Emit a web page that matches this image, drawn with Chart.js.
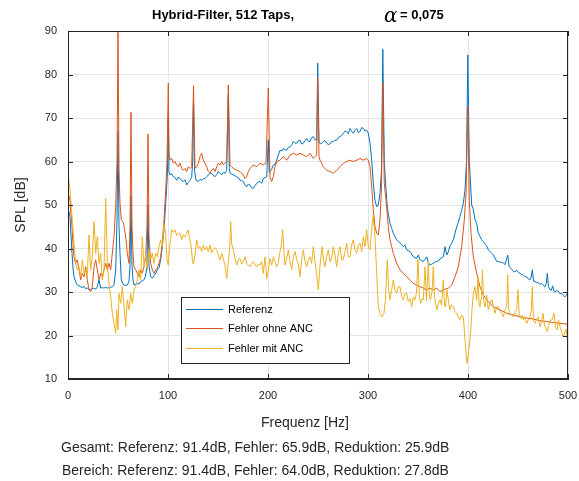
<!DOCTYPE html>
<html>
<head>
<meta charset="utf-8">
<script src="https://cdn.jsdelivr.net/npm/chart.js@4.4.0/dist/chart.umd.min.js"></script>
<style>
  html, body { margin: 0; padding: 0; background: #ffffff; }
  #wrap { width: 579px; height: 481px; }
</style>
</head>
<body>
<div id="wrap"><canvas id="grafik" width="579" height="481"></canvas></div>
<script>
const referenz = [
  [0,49.0],[1,48.5],[2,47.3],[3,43.0],[4,38.9],[5,35.5],[6,33.5],[8,32.2],[9.3,31.6],[11,31.4],
  [12.7,31.2],[14,31.0],[16,31.3],[17.5,30.8],[19.3,30.9],[21,30.6],[22.7,30.5],[24.5,30.8],[26,30.9],[27.5,30.6],
  [29.3,31.2],[31,32.8],[32.7,30.9],[34.5,31.0],[36,30.9],[37.5,31.1],[39.3,30.9],[41,31.0],[42.7,31.1],[44.5,31.2],
  [46,31.6],[47.7,35.1],[49,46.6],[50,67.0],[51,45.0],[52,38.9],[53.3,32.8],[55,31.8],[56,31.6],[58,31.5],
  [59.3,31.6],[61,32.4],[62,36.0],[63,52.0],[64,36.0],[65,32.8],[66,31.6],[68,31.8],[69.3,32.0],[71,31.8],
  [72.7,32.4],[74.5,32.6],[76,32.8],[77.5,33.6],[79,36.0],[80,50.0],[81,36.0],[82.7,33.5],[84.5,33.2],[86,33.8],
  [88,34.4],[89.3,35.1],[91,35.6],[92.7,37.4],[94.3,40.4],[96,44.3],[97.7,50.4],[99.3,56.5],[100.3,70.0],[101,57.5],
  [102,56.9],[103.7,57.2],[105.3,56.5],[107,56.3],[108.7,55.7],[110.3,56.4],[112,56.1],[113.7,55.6],[115.3,55.4],[117,55.8],
  [118.7,54.6],[120.3,55.2],[122,55.7],[123.7,56.5],[124.7,60.0],[125.5,73.4],[126.5,58.0],[128,55.7],[130.3,55.4],[132,55.9],
  [133.7,55.7],[135.3,56.0],[137,56.1],[138.7,56.5],[140.3,56.9],[142,57.3],[143.7,57.3],[145.3,56.8],[147,56.5],[148.7,57.0],
  [150.3,57.7],[152,57.3],[153.7,56.9],[155.3,57.5],[157,57.3],[158.7,58.0],[160.3,75.5],[161.3,58.4],[162,57.3],[163.7,57.1],
  [165.3,56.9],[167,56.7],[168.7,56.5],[170.3,56.3],[172,55.7],[173.7,55.6],[175.3,55.4],[177,54.6],[178.7,54.2],[180.3,54.8],
  [182,54.6],[183.7,54.0],[185.3,53.8],[187,54.4],[188.7,55.0],[190.3,55.3],[192,55.4],[193.7,55.0],[195.3,56.1],[197,56.3],
  [198.7,56.5],[200.3,65.0],[201.3,57.5],[202,57.7],[203.7,58.2],[205.3,59.2],[207,59.4],[208.7,60.3],[210.3,61.5],[212,62.6],
  [213.7,62.4],[215.3,63.0],[217,62.7],[218.7,62.6],[220.3,63.2],[222,63.4],[223.7,63.8],[225.3,64.6],[227,64.2],[228.7,64.2],
  [230.3,64.8],[232,64.9],[233.7,64.0],[235.3,64.2],[237,64.8],[238.7,65.3],[240.3,64.6],[242,64.6],[243.7,65.5],[245.3,65.7],
  [247,65.0],[248.7,64.9],[249.7,82.6],[251,64.5],[252.7,64.0],[254,64.3],[255.3,64.6],[257,64.8],[258.7,64.2],[260.3,63.9],
  [262,64.0],[263.7,64.6],[265.3,64.6],[267,64.9],[268.7,64.9],[270.3,65.5],[272,65.7],[273.7,66.0],[275.3,66.5],[277,67.0],
  [278.7,66.9],[280.3,66.4],[282,67.6],[283.7,66.9],[285.3,66.5],[287,67.2],[288.7,67.6],[290.3,66.6],[292,66.9],[293.7,67.8],
  [295.3,67.6],[297,67.0],[298.7,67.2],[300.3,66.5],[302,64.2],[303.7,60.3],[305.3,55.0],[307,51.1],[308.7,49.6],[310.3,50.0],
  [312,52.7],[313.5,58.0],[314.8,85.8],[316.3,60.0],[318,53.5],[319.3,49.6],[320.7,47.5],[322,45.8],[323.7,44.6],[325.3,43.5],
  [327,42.7],[328.7,42.0],[330.3,41.6],[332,41.2],[333.7,40.9],[335.3,40.4],[337,40.8],[338.7,39.7],[340.3,39.5],[342,39.3],
  [343.7,38.7],[345.3,38.1],[347,37.9],[348.7,37.7],[350.3,38.5],[352,37.4],[353.7,37.2],[355.3,37.0],[357,37.5],[358.7,38.1],
  [360.3,36.8],[362,36.2],[363.7,36.4],[365.3,36.6],[367,36.9],[368.7,37.0],[370.3,37.1],[372,37.6],[374,37.9],[375.3,38.1],
  [377,40.4],[378.7,38.5],[380.3,39.2],[382,40.6],[383.7,41.2],[385.3,42.0],[387,43.5],[388.7,45.0],[390.3,46.0],[392,47.4],
  [393.7,48.8],[395.3,50.4],[397,53.4],[398.5,60.0],[399.8,84.5],[401.3,60.0],[403.7,50.0],[405.3,49.0],[407,46.6],[408.7,45.8],
  [410.3,43.5],[412,42.8],[413.7,42.0],[415.3,41.6],[417,41.0],[418.7,40.6],[420.3,39.7],[422,39.3],[423.7,38.9],[425.3,38.5],
  [427,37.8],[428.7,37.0],[430.3,37.0],[432,36.9],[433.7,36.8],[435.3,36.7],[437,36.3],[438.5,37.5],[439.7,38.5],[441,36.0],
  [442,35.7],[443.7,35.2],[445.3,34.8],[447,34.6],[448.7,35.0],[450.3,34.5],[452,34.3],[453.7,34.0],[455.3,33.9],[457,33.5],
  [458.7,33.5],[460.3,33.0],[462,32.8],[463.3,33.5],[464.3,35.1],[465.5,32.5],[467,32.4],[468.7,32.2],[470.3,32.1],[472,31.8],
  [473.7,32.0],[475.3,31.5],[477,31.2],[478.3,32.0],[479.3,34.3],[480.5,31.2],[482,30.5],[483.3,30.4],[484.7,31.4],[486,30.1],
  [487,30.0],[488.7,30.3],[490.3,30.2],[492,29.6],[493.7,29.7],[495.3,29.2],[497,28.9],[498.3,29.2],[499.3,29.7],[500,28.9]
];

const fehlerOhneAnc = [
  [0,52.5],[1,52.0],[2,51.0],[3,48.0],[4,45.0],[5,41.0],[6,38.0],[7.5,36.6],[9.3,37.4],[11,35.1],
  [12.7,32.8],[14.3,34.3],[16,33.5],[17.7,35.8],[19.3,32.8],[21,30.5],[22.7,30.1],[24.3,31.2],[26,35.8],[27.7,37.4],
  [29.3,35.1],[31,32.8],[32.7,34.3],[34.3,33.5],[36,35.1],[37.7,36.6],[39.3,35.1],[41,36.6],[42.7,35.1],[44.3,38.9],
  [46,42.7],[47.7,49.8],[49,60.0],[50,89.7],[51,58.0],[52,50.4],[53.3,46.6],[55.3,46.0],[57.7,42.7],[59.3,38.9],
  [61,36.6],[62,45.0],[63,71.3],[64,45.0],[65,38.9],[66,35.8],[67.7,35.1],[69.3,34.3],[71,33.5],[72.7,35.1],
  [74.3,34.3],[76,35.8],[77.7,38.1],[79,45.0],[80,66.3],[81,42.7],[82.7,36.6],[84.3,35.1],[86,34.3],[87.7,35.1],
  [89.3,35.5],[91,36.6],[92.7,38.1],[94.3,41.2],[96,46.6],[97.7,53.4],[99,60.0],[100.3,78.0],[101,62.0],[102,60.3],
  [103.7,60.7],[105.3,59.6],[107,60.0],[108.7,59.2],[110.3,58.8],[112,59.6],[113.7,58.4],[115.3,58.0],[117,58.4],[118.7,57.7],
  [120.3,58.8],[122,58.4],[123.7,58.8],[125.5,77.4],[127,58.4],[128.7,58.8],[130.3,59.6],[132,61.1],[133.7,61.9],[135.3,60.3],
  [137,59.6],[138.7,58.8],[140.3,57.7],[142,57.3],[143.7,58.0],[145.3,58.4],[147,57.7],[148.7,58.8],[150.3,59.6],[152,59.2],
  [153.7,60.0],[155.3,59.2],[157,59.6],[158.7,60.0],[160.3,77.6],[162,59.2],[163.7,58.8],[165.3,58.4],[168.7,58.0],[172,57.7],
  [175.3,56.9],[177,56.1],[178.7,56.5],[180.3,57.7],[182,58.4],[185.3,59.2],[188.7,58.8],[192,59.6],[195.3,59.2],[198,59.6],
  [200.3,76.9],[202,56.5],[203.7,55.4],[205.3,56.5],[207,58.8],[208.7,60.0],[212,60.3],[215.3,61.1],[218.7,60.3],[222,61.5],
  [225.3,61.9],[228.7,61.5],[232,61.9],[235.3,61.5],[238.7,61.1],[242,61.9],[245.3,60.7],[248.7,61.5],[249.7,79.3],[251,61.0],
  [252,60.3],[253.7,59.6],[255.3,58.8],[258.7,58.0],[262,57.7],[265.3,57.3],[268.7,58.0],[272,58.8],[275.3,59.6],[278.7,60.0],
  [282,60.3],[285.3,60.0],[288.7,60.3],[292,60.7],[295.3,60.3],[298.7,60.7],[300.3,60.3],[302,58.8],[303.7,54.2],[305.3,48.9],
  [307,45.0],[308.7,43.5],[310.3,43.1],[312,46.6],[313.5,54.0],[314.8,78.1],[316.3,55.0],[318,51.1],[320.3,45.0],[322,42.0],
  [325.3,38.9],[328.7,36.6],[332,35.1],[335.3,34.3],[338.7,33.5],[342,32.8],[345.3,32.0],[348.7,31.6],[352,31.2],[355.3,30.9],
  [358.7,30.5],[362,30.9],[365.3,30.5],[368.7,30.9],[372,30.1],[375.3,30.5],[380.3,30.9],[383.7,31.6],[387,33.5],[390.3,35.8],
  [393.7,40.4],[396.3,46.6],[398,52.5],[399.8,72.6],[401.3,51.0],[403,43.5],[405.3,38.1],[408.7,34.3],[412,31.2],[415.3,29.3],
  [420.3,27.8],[425.3,26.6],[432,25.9],[438.7,25.1],[445.3,24.7],[452,24.3],[458.7,24.0],[465.3,23.8],[472,23.4],[478.7,23.2],
  [485.3,23.0],[492,22.8],[500,22.6]
];

const fehlerMitAnc = [
  [0,57.3],[2,53.4],[4.3,46.6],[6,41.2],[7.7,36.6],[9.3,35.1],[11,35.8],[12.7,33.5],[14.3,37.4],[16,34.3],
  [17.7,35.1],[19.3,33.5],[21,43.1],[22.7,35.1],[24.3,38.1],[26,46.2],[27.7,38.9],[29.3,42.7],[31,36.6],[32.7,38.9],
  [34.3,32.8],[36,35.1],[37.7,51.5],[39.3,36.6],[41,32.0],[42.7,28.9],[44.3,25.1],[46,22.8],[47.7,20.5],[48.7,25.9],
  [50,21.3],[51,29.7],[52.7,27.4],[54.3,31.2],[56,26.6],[57.7,22.0],[59.3,28.2],[61,25.9],[62.7,29.7],[64.3,27.4],
  [66,30.5],[67.7,31.2],[69.3,32.8],[71,35.1],[72.7,32.8],[74.3,42.7],[76,35.8],[77.7,38.9],[79.3,35.1],[81,39.7],
  [82.7,37.4],[84.3,38.9],[86,36.6],[87.7,38.9],[89.3,38.1],[91,40.4],[92.7,42.0],[94.3,40.4],[96,45.8],[97.7,43.5],
  [99,37.4],[100.3,36.2],[101.5,40.0],[103.7,44.3],[105.3,43.7],[107,44.3],[108.7,43.0],[110.3,43.5],[112,43.5],[113.7,42.0],
  [115.3,43.2],[117,42.7],[118.7,43.5],[120,44.3],[121.5,42.5],[123,40.8],[124.5,37.0],[125.3,36.4],[127,38.5],[128.7,42.0],
  [130.3,40.0],[132,40.4],[133.7,39.3],[135.3,40.8],[137,39.7],[138.7,40.4],[140.3,39.3],[142,40.8],[143.7,39.0],[145.3,39.7],
  [147,40.2],[148.7,39.7],[150.3,38.5],[152,37.4],[153.7,38.9],[155.3,37.7],[157,36.0],[158.7,33.1],[160.3,37.0],[161.7,40.0],
  [162.7,46.2],[163.7,41.0],[165.3,39.7],[167,37.7],[168.7,36.2],[170.3,37.4],[172,37.7],[173.7,36.4],[175.3,37.0],[177,38.1],
  [178.7,36.6],[180.3,36.2],[182,35.8],[183.7,36.6],[185.3,37.0],[187,36.2],[188.7,35.8],[190.3,36.4],[192,36.2],[193.7,37.0],
  [195.3,34.3],[197,38.1],[198.7,33.1],[200.3,35.0],[202,37.7],[203.7,36.2],[205.3,38.1],[207,37.0],[208.7,35.8],[210.3,36.6],
  [212,39.3],[213.5,41.0],[214.7,44.3],[216,38.9],[217,36.2],[218.7,37.7],[220.3,39.7],[222,37.0],[223.7,35.1],[225.3,38.1],
  [227,39.3],[228.7,37.4],[230.3,36.6],[232,33.5],[233.7,37.4],[235.3,39.7],[237,37.0],[238.7,35.8],[240.3,37.4],[242,38.1],
  [243.7,36.6],[245.3,40.4],[247,37.0],[248.5,34.3],[250.3,30.5],[252,36.0],[254,40.4],[255.5,37.4],[257,35.8],[258.7,38.1],
  [260.3,39.7],[262,37.0],[264,38.1],[265.3,40.4],[267,38.5],[268.7,35.8],[270.3,38.9],[272,40.4],[273.7,37.4],[275.3,37.4],
  [277,39.3],[278.7,41.2],[280.3,38.1],[282,38.1],[283.7,40.8],[285.3,42.0],[287,39.7],[288.7,38.9],[290.3,40.8],[292,41.2],
  [293.7,39.3],[295.3,42.7],[297,40.4],[298.7,44.3],[300.3,40.4],[302,39.7],[303.5,44.0],[304.5,46.6],[305.3,47.7],[306,45.0],
  [307,42.7],[308.7,34.3],[310.3,26.6],[312,25.1],[314,24.3],[316,25.1],[317.3,28.0],[319.3,37.4],[320.5,31.0],[322,28.2],
  [323.7,30.5],[325.3,32.8],[327,30.5],[328.7,29.7],[330.3,31.2],[332,31.2],[333.7,28.9],[335.3,28.2],[337,29.7],[338.7,29.7],
  [340.3,27.8],[342,28.5],[343.7,26.6],[345.3,28.9],[347,28.2],[348.5,30.0],[350,37.5],[351.3,29.0],[352.7,27.4],[354,28.5],
  [355.3,28.2],[357,35.8],[358.5,28.0],[360.3,37.0],[361.5,28.9],[362.5,28.2],[364,30.0],[365.3,35.8],[366.5,29.0],[367.5,27.4],
  [369,25.9],[370.5,27.4],[372,28.2],[373.5,27.0],[375.3,32.8],[376.5,27.0],[377.5,26.6],[379,30.5],[380.5,27.8],[382,25.9],
  [383.5,27.0],[385.3,26.6],[387,25.5],[388.7,25.1],[390.3,24.3],[392,23.6],[393.7,24.7],[395.3,24.3],[397,19.0],[398,16.0],
  [399,13.6],[400.5,16.0],[402,19.0],[403,22.0],[404,25.9],[405.3,29.7],[407,31.2],[408.7,28.2],[410,33.5],[411,27.4],
  [412,26.6],[413.5,29.0],[414.5,35.1],[415.5,28.2],[417,26.6],[418.7,29.3],[420.3,25.9],[422,27.4],[424,28.2],[425.5,26.6],
  [427,25.1],[428.7,26.6],[430.3,26.6],[432,25.5],[433.7,25.1],[435.3,24.3],[437,25.9],[438.7,26.6],[439.7,33.9],[440.7,25.9],
  [442,25.1],[443.7,24.7],[445.3,24.3],[447,25.5],[448.7,26.0],[450,30.5],[451.3,24.3],[452.7,23.9],[454,24.7],[455.3,23.6],
  [457,24.3],[458.7,22.8],[460.3,23.6],[462,24.3],[463.3,26.0],[464.3,31.2],[465.5,23.2],[467,22.8],[468.7,23.9],[470.3,24.3],
  [472,22.0],[473.7,23.2],[475,25.1],[476.5,22.4],[478,21.5],[479.3,20.9],[480.5,22.0],[482,23.5],[484,23.6],[486,25.1],
  [487.5,22.0],[489,21.3],[490.5,23.5],[492,22.0],[493.5,21.0],[495,19.7],[496.5,20.5],[498,21.5],[499.3,19.3],[500,19.5]
];

const serienNamen = ['Referenz', 'Fehler ohne ANC', 'Fehler mit ANC'];
const serienFarben = ['#0072BD', '#D95319', '#EDB120'];
const xTicks = [0, 100, 200, 300, 400, 500];
const yTicks = [10, 20, 30, 40, 50, 60, 70, 80, 90];

const titelText = 'Hybrid-Filter, 512 Taps,';
const alphaZeichen = '\u03B1';
const alphaWert = '= 0,075';
const xTitel = 'Frequenz [Hz]';
const yTitel = 'SPL [dB]';
const fusszeilen = [
  'Gesamt: Referenz: 91.4dB, Fehler: 65.9dB, Reduktion: 25.9dB',
  'Bereich: Referenz: 91.4dB, Fehler: 64.0dB, Reduktion: 27.8dB'
];

const SCHRIFT = '"Liberation Sans", Arial, sans-serif';
const ACHSENFARBE = '#262626';

function alsPunkte(paare) {
  return paare.map(p => ({ x: p[0], y: p[1] }));
}

// Rahmen, innenliegende Ticks, Titel, Legende und Textzeilen (MATLAB-Look)
const matlabDeko = {
  id: 'matlabDeko',
  afterDraw(chart) {
    const ctx = chart.ctx;
    const a = chart.chartArea;
    const sx = chart.scales.x, sy = chart.scales.y;
    ctx.save();

    // Achsenrahmen
    ctx.strokeStyle = ACHSENFARBE;
    ctx.lineWidth = 1;
    ctx.strokeRect(Math.round(a.left) + 0.5, Math.round(a.top) + 0.5,
      Math.round(a.right - a.left) - 1, Math.round(a.bottom - a.top) - 1);

    // Ticks nach innen
    ctx.beginPath();
    xTicks.forEach(v => {
      const px = Math.round(sx.getPixelForValue(v)) + 0.5;
      ctx.moveTo(px, a.bottom); ctx.lineTo(px, a.bottom - 5);
      ctx.moveTo(px, a.top); ctx.lineTo(px, a.top + 5);
    });
    yTicks.forEach(v => {
      const py = Math.round(sy.getPixelForValue(v)) + 0.5;
      ctx.moveTo(a.left, py); ctx.lineTo(a.left + 5, py);
      ctx.moveTo(a.right, py); ctx.lineTo(a.right - 5, py);
    });
    ctx.stroke();

    // Titel
    ctx.fillStyle = '#000000';
    ctx.textBaseline = 'alphabetic';
    ctx.textAlign = 'left';
    ctx.font = 'bold 13px ' + SCHRIFT;
    ctx.fillText(titelText, 152, 19);
    ctx.font = 'italic 20px "DejaVu Serif", "Liberation Serif", serif';
    ctx.fillText(alphaZeichen, 384, 22);
    ctx.font = 'bold 13px ' + SCHRIFT;
    ctx.fillText(alphaWert, 400, 19);

    // Achsenbeschriftungen
    ctx.fillStyle = ACHSENFARBE;
    ctx.font = '14px ' + SCHRIFT;
    ctx.textAlign = 'center';
    ctx.fillText(xTitel, 305, 427);
    ctx.save();
    ctx.translate(25, (a.top + a.bottom) / 2);
    ctx.rotate(-Math.PI / 2);
    ctx.fillText(yTitel, 0, 0);
    ctx.restore();

    // Fusszeilen
    ctx.textAlign = 'left';
    ctx.font = '14px ' + SCHRIFT;
    ctx.fillText(fusszeilen[0], 61, 452);
    ctx.fillText(fusszeilen[1], 62, 475);

    // Legende
    const lx = 181, ly = 297, lw = 168, lh = 66;
    ctx.fillStyle = '#ffffff';
    ctx.fillRect(lx, ly, lw, lh);
    ctx.strokeStyle = ACHSENFARBE;
    ctx.strokeRect(lx + 0.5, ly + 0.5, lw, lh);
    const zeilenY = [309.5, 328.5, 348.5];
    ctx.font = '11px ' + SCHRIFT;
    ctx.textBaseline = 'middle';
    serienNamen.forEach((name, i) => {
      ctx.strokeStyle = serienFarben[i];
      ctx.beginPath();
      ctx.moveTo(186, zeilenY[i]); ctx.lineTo(223, zeilenY[i]);
      ctx.stroke();
      ctx.fillStyle = '#000000';
      ctx.fillText(name, 228, zeilenY[i]);
    });

    ctx.restore();
  }
};

const quellen = [referenz, fehlerOhneAnc, fehlerMitAnc];
const ebenen = [2, 1, 0]; // gelb oben, blau unten

function ohneRandPolster(s) {
  s.paddingLeft = 0; s.paddingRight = 0; s.paddingTop = 0; s.paddingBottom = 0;
}

new Chart(document.getElementById('grafik').getContext('2d'), {
  type: 'line',
  data: {
    datasets: quellen.map((q, i) => ({
      label: serienNamen[i],
      data: alsPunkte(q),
      borderColor: serienFarben[i],
      backgroundColor: serienFarben[i],
      borderWidth: 1,
      pointRadius: 0,
      tension: 0,
      fill: false,
      order: ebenen[i]
    }))
  },
  options: {
    responsive: false,
    animation: false,
    events: [],
    layout: { padding: { left: 0, right: 11, top: 31, bottom: 0 } },
    plugins: { legend: { display: false }, title: { display: false }, tooltip: { enabled: false } },
    scales: {
      x: {
        type: 'linear', min: 0, max: 500,
        afterFit: s => { s.height = 102; ohneRandPolster(s); },
        afterBuildTicks: s => { s.ticks = xTicks.map(v => ({ value: v })); },
        ticks: { font: { size: 11, family: SCHRIFT }, color: ACHSENFARBE, padding: 10, maxRotation: 0 },
        grid: { color: '#e4e4e4', drawTicks: false },
        border: { color: ACHSENFARBE }
      },
      y: {
        type: 'linear', min: 10, max: 90,
        afterFit: s => { s.width = 68; ohneRandPolster(s); },
        afterBuildTicks: s => { s.ticks = yTicks.map(v => ({ value: v })); },
        ticks: { font: { size: 11, family: SCHRIFT }, color: ACHSENFARBE, padding: 11 },
        grid: { color: '#e4e4e4', drawTicks: false },
        border: { color: ACHSENFARBE }
      }
    }
  },
  plugins: [matlabDeko]
});
</script>
</body>
</html>
